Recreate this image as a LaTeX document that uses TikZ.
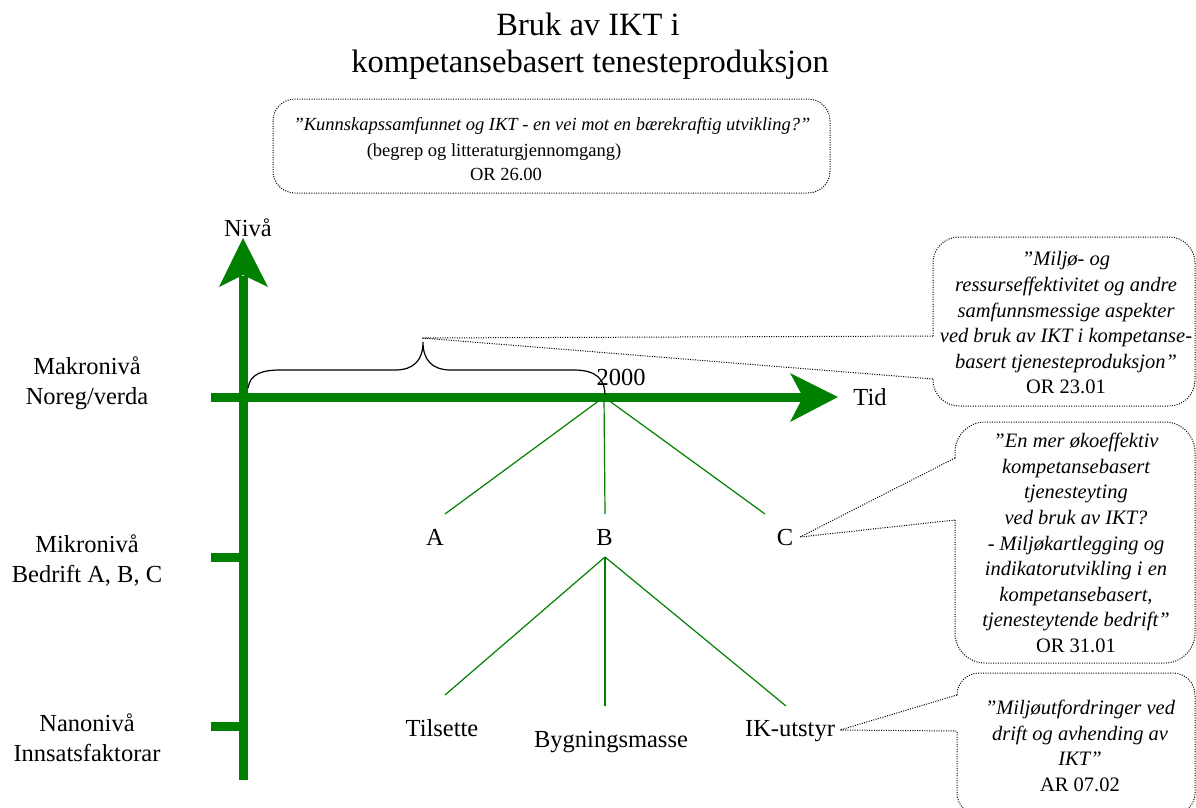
\documentclass[tikz,border=0pt]{standalone}
\usepackage{fontspec}
\setmainfont{Liberation Serif}
\definecolor{axgreen}{RGB}{0,128,0}
\tikzset{
  axisline/.style={draw=axgreen, line width=9pt},
  axishead/.style={fill=axgreen},
  branch/.style={draw=axgreen, line width=1.2pt},
  lbl/.style={font=\fontsize{24.5}{30}\selectfont, inner sep=0pt, align=center},
  ttl/.style={font=\fontsize{32.5}{38}\selectfont, inner sep=0pt, anchor=base},
  callout/.style={draw=black, line width=1pt, dash pattern=on 1pt off 1.4pt},
  ctext/.style={font=\fontsize{20.5}{25.6}\selectfont\itshape, align=center, inner sep=0pt},
  toptext/.style={font=\fontsize{18.5}{25}\selectfont, inner sep=0pt, anchor=base},
  bracestyle/.style={draw=black, line width=1.2pt}
}
\begin{document}
\begin{tikzpicture}[x=1pt,y=-1pt]
\useasboundingbox (0,0) rectangle (1196,807);

% title
\node[ttl] (t1) at (588,35) {Bruk av IKT i};
\node[ttl] (t2) at (590,72) {kompetansebasert tenesteproduksjon};

% top callout
\draw[callout, rounded corners=22] (273,99) rectangle (830,193);
\node[toptext, font=\fontsize{18.5}{25}\selectfont\itshape] (q1) at (552,130) {”Kunnskapssamfunnet og IKT - en vei mot en bærekraftig utvikling?”};
\node[toptext] (q2) at (494,156) {(begrep og litteraturgjennomgang)};
\node[toptext] (q3) at (506,180) {OR 26.00};

% axes
\coordinate (vbot) at (243,780);
\coordinate (vtop) at (243,276);
\coordinate (hleft) at (211,397);
\coordinate (hright) at (805,397);
\draw[axisline] (vbot) -- (vtop);
\draw[axisline] (hleft) -- (hright);
\fill[axishead] (243,238) -- (268,287) -- (243,275) -- (219,287) -- cycle;
\fill[axishead] (838,397) -- (790,373) -- (803,397) -- (790,422) -- cycle;
\coordinate (tick1a) at (211,557); \coordinate (tick1b) at (243,557);
\coordinate (tick2a) at (211,726); \coordinate (tick2b) at (243,726);
\draw[axisline] (tick1a) -- (tick1b);
\draw[axisline] (tick2a) -- (tick2b);

\node[lbl, anchor=base] (niva) at (248,236) {Nivå};
\node[lbl, anchor=base] (tid) at (870,405) {Tid};
\node[lbl, anchor=base] (y2000) at (621,385) {2000};

\node[lbl] (makro) at (87,383) {Makronivå\\Noreg/verda};
\node[lbl] (mikro) at (87,560) {Mikronivå\\Bedrift A, B, C};
\node[lbl] (nano) at (87,738) {Nanonivå\\Innsatsfaktorar};

% tree
\coordinate (root) at (604,397);
\node[lbl, anchor=base] (A) at (435,545) {A};
\node[lbl, anchor=base] (B) at (604.5,545) {B};
\node[lbl, anchor=base] (C) at (785,545) {C};
\coordinate (Atop) at (445,514);
\coordinate (Btop) at (605,514);
\coordinate (Ctop) at (765,514);
\draw[branch] (root) -- (Atop);
\draw[branch] (root) -- (Btop);
\draw[branch] (root) -- (Ctop);

\coordinate (Bbot) at (605,557);
\node[lbl, anchor=base] (til) at (442,736) {Tilsette};
\node[lbl, anchor=base] (byg) at (611,747) {Bygningsmasse};
\node[lbl, anchor=base] (ik) at (790,736) {IK-utstyr};
\coordinate (tilTop) at (445,695);
\coordinate (bygTop) at (605,706);
\coordinate (ikTop) at (786,706);
\draw[branch] (Bbot) -- (tilTop);
\draw[branch] (Bbot) -- (bygTop);
\draw[branch] (Bbot) -- (ikTop);

% brace
\coordinate (braceL) at (248,388);
\coordinate (braceTip) at (423,342);
\coordinate (braceR) at (605,395);
\draw[bracestyle] (braceL) .. controls (250,374) and (262,370) .. (280,370) -- (395,370)
  .. controls (414,370) and (423,360) .. (braceTip)
  .. controls (423,360) and (432,370) .. (451,370) -- (574,370)
  .. controls (597,370) and (605,380) .. (braceR);

% callout 2
\coordinate (c2up) at (933,336);
\coordinate (c2lo) at (933,379);
\coordinate (c2tip) at (422,338);
\draw[callout] (c2up) [rounded corners=26] -- (933,237) -- (1195,237) -- (1195,406) -- (933,406) -- (c2lo);
\draw[callout] (c2up) -- (c2tip) -- (c2lo);
\node[ctext] (c2) at (1066,323) {”Miljø- og\\ressurseffektivitet og andre\\samfunnsmessige aspekter\\ved bruk av IKT i kompetanse-\\basert tjenesteproduksjon”\\{\upshape OR 23.01}};

% callout 3
\coordinate (c3up) at (955,458);
\coordinate (c3lo) at (955,520);
\coordinate (c3tip) at (800,537);
\draw[callout] (c3up) [rounded corners=30] -- (955,422) -- (1195,422) -- (1195,663) -- (955,663) -- (c3lo);
\draw[callout] (c3up) -- (c3tip) -- (c3lo);
\node[ctext] (c3) at (1076,543) {”En mer økoeffektiv\\kompetansebasert\\tjenesteyting\\ved bruk av IKT?\\- Miljøkartlegging og\\indikatorutvikling i en\\kompetansebasert,\\tjenesteytende bedrift”\\{\upshape OR 31.01}};

% callout 4
\coordinate (c4up) at (957,695);
\coordinate (c4lo) at (957,731);
\coordinate (c4tip) at (840,730);
\draw[callout] (c4up) [rounded corners=22] -- (957,673) -- (1195,673) -- (1195,815) -- (957,815) -- (c4lo);
\draw[callout] (c4up) -- (c4tip) -- (c4lo);
\node[ctext] (c4) at (1080,746) {”Miljøutfordringer ved\\drift og avhending av\\IKT”\\{\upshape AR 07.02}};
\end{tikzpicture}
\end{document}
